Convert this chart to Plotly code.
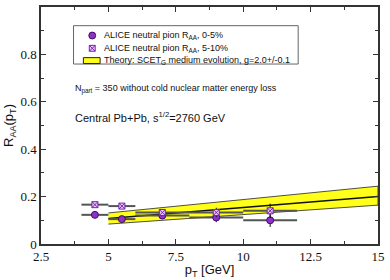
import plotly.graph_objects as go

# ALICE data
pt = [4.5, 5.5, 7.0, 9.0, 11.0]
pt_halfbin = [0.5, 0.5, 1.0, 1.0, 1.0]
raa_0_5 = [0.123, 0.105, 0.120, 0.112, 0.100]
err_0_5 = [0.008, 0.008, 0.012, 0.020, 0.028]
raa_5_10 = [0.166, 0.160, 0.133, 0.133, 0.140]
err_5_10 = [0.008, 0.008, 0.012, 0.020, 0.030]

# Theory band
th_pt = [5.0, 7.5, 10.0, 12.5, 15.0]
th_center = [0.108, 0.131, 0.154, 0.177, 0.200]
th_upper = [0.131, 0.159, 0.187, 0.215, 0.244]
th_lower = [0.084, 0.104, 0.124, 0.144, 0.164]

xtickvals = [2.5, 5, 7.5, 10, 12.5, 15]
xticktext = ["2.5", "5", "7.5", "10", "12.5", "15"]
ytickvals = [0, 0.2, 0.4, 0.6, 0.8, 1.0]
yticktext = ["0", "0.2", "0.4", "0.6", "0.8", "1"]

legend_labels = [
    "ALICE neutral pion R<sub>AA</sub>, 0-5%",
    "ALICE neutral pion R<sub>AA</sub>, 5-10%",
    "Theory: SCET<sub>G</sub> medium evolution, g=2.0+/-0.1",
]

CIRCLE_FILL = "#9030c8"
CIRCLE_LINE = "#3a1060"
SQ_FILL = "#e8d0f5"
SQ_LINE = "#7a1fb0"
BAND = "#ffff1a"

fig = go.Figure()

fig.add_trace(go.Scatter(
    x=th_pt + th_pt[::-1], y=th_upper + th_lower[::-1],
    mode="lines", fill="toself", fillcolor=BAND,
    line=dict(color="#222222", width=0.8), name=legend_labels[2],
))
fig.add_trace(go.Scatter(
    x=th_pt, y=th_center, mode="lines",
    line=dict(color="#111111", width=1.5),
))
fig.add_trace(go.Scatter(
    x=pt, y=raa_0_5, mode="markers", name=legend_labels[0],
    marker=dict(symbol="circle", size=7, color=CIRCLE_FILL,
                line=dict(color=CIRCLE_LINE, width=1)),
    error_x=dict(type="data", array=pt_halfbin, color="#555555", thickness=2, width=0),
    error_y=dict(type="data", array=err_0_5, color="#111111", thickness=1, width=0),
))
fig.add_trace(go.Scatter(
    x=pt, y=raa_5_10, mode="markers", name=legend_labels[1],
    marker=dict(symbol="square-x", size=6, color=SQ_FILL,
                line=dict(color=SQ_LINE, width=1)),
    error_x=dict(type="data", array=pt_halfbin, color="#555555", thickness=2, width=0),
    error_y=dict(type="data", array=err_5_10, color="#111111", thickness=1, width=0),
))

axis_common = dict(
    showline=True, linecolor="#333333", linewidth=1.5, mirror="allticks",
    ticks="inside", ticklen=5, tickcolor="#333333", showgrid=False, zeroline=False,
    tickfont=dict(family="Liberation Serif", size=13, color="#111111"),
)

# plot-area geometry helpers for the hand-built legend box (paper coords)
PL, PR, PT, PB = 41, 383, 5, 246
def px(x):
    return (x - PL) / (PR - PL)
def py(y):
    return (PB - y) / (PB - PT)

rows = [34, 47, 59.5]
sym_x = 93
r = 3.5
rs = 3
shapes = [
    dict(type="rect", xref="paper", yref="paper", x0=px(74), x1=px(302), y0=py(63), y1=py(24),
         line=dict(color="#666666", width=1), fillcolor="white", layer="above"),
    dict(type="circle", xref="paper", yref="paper", x0=px(sym_x - r), x1=px(sym_x + r),
         y0=py(rows[0] + r), y1=py(rows[0] - r),
         line=dict(color=CIRCLE_LINE, width=1), fillcolor=CIRCLE_FILL, layer="above"),
    dict(type="rect", xref="paper", yref="paper", x0=px(sym_x - rs), x1=px(sym_x + rs),
         y0=py(rows[1] + rs), y1=py(rows[1] - rs),
         line=dict(color=SQ_LINE, width=1), fillcolor=SQ_FILL, layer="above"),
    dict(type="line", xref="paper", yref="paper", x0=px(sym_x - rs), x1=px(sym_x + rs),
         y0=py(rows[1] + rs), y1=py(rows[1] - rs), line=dict(color=SQ_LINE, width=1), layer="above"),
    dict(type="line", xref="paper", yref="paper", x0=px(sym_x - rs), x1=px(sym_x + rs),
         y0=py(rows[1] - rs), y1=py(rows[1] + rs), line=dict(color=SQ_LINE, width=1), layer="above"),
    dict(type="rect", xref="paper", yref="paper", x0=px(84), x1=px(101),
         y0=py(rows[2] + 3), y1=py(rows[2] - 3),
         line=dict(color="#222222", width=1), fillcolor=BAND, layer="above"),
]

annotations = [
    dict(text=lab, xref="paper", yref="paper", x=px(103), y=py(rw), xanchor="left",
         yanchor="middle", showarrow=False, font=dict(size=9))
    for lab, rw in zip(legend_labels, rows)
] + [
    dict(text="N<sub>part</sub> = 350 without cold nuclear matter energy loss",
         xref="paper", yref="paper", x=px(73), y=py(88), xanchor="left", yanchor="middle",
         showarrow=False, font=dict(size=9)),
    dict(text="Central Pb+Pb, s<sup>1/2</sup>=2760 GeV",
         xref="paper", yref="paper", x=px(73), y=py(117), xanchor="left", yanchor="middle",
         showarrow=False, font=dict(size=11)),
]

fig.update_layout(
    width=390, height=280,
    margin=dict(l=PL, r=390 - PR, t=PT, b=280 - PB),
    paper_bgcolor="white", plot_bgcolor="white",
    font=dict(family="Liberation Sans, Arial", color="#111111"),
    xaxis=dict(range=[2.5, 15], tickvals=xtickvals, ticktext=xticktext,
               title=dict(text="p<sub>T</sub> [GeV]", font=dict(size=13), standoff=2),
               minor=dict(ticks="inside", ticklen=3, dtick=1.25, tick0=2.5, tickcolor="#333333"),
               **axis_common),
    yaxis=dict(range=[0, 1], tickvals=ytickvals, ticktext=yticktext,
               title=dict(text="R<sub>AA</sub>(p<sub>T</sub>)", font=dict(size=13), standoff=4),
               minor=dict(ticks="inside", ticklen=3, dtick=0.1, tick0=0, tickcolor="#333333"),
               **axis_common),
    showlegend=False,
    shapes=shapes,
    annotations=annotations,
)

fig.write_html("out.html", config={"displayModeBar": False},
               post_script="document.body.style.margin='0';")
